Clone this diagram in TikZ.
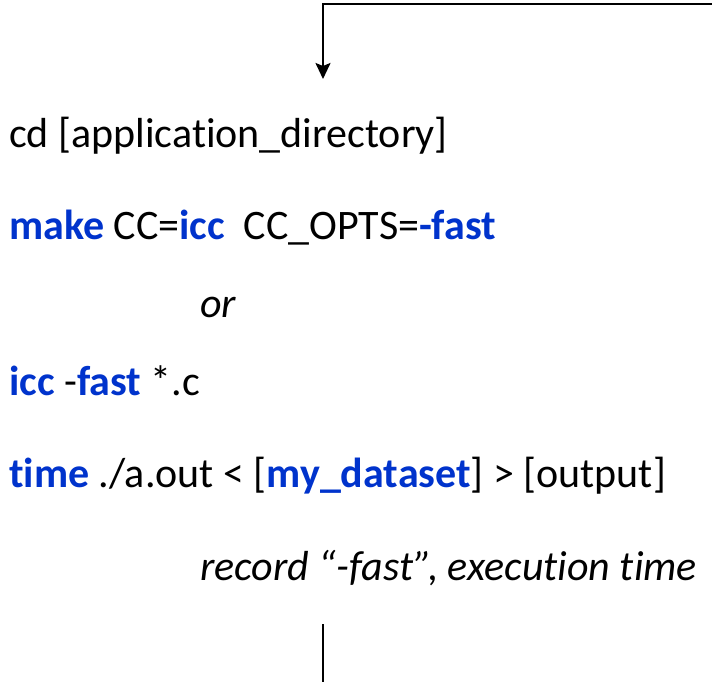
\documentclass[tikz,border=0pt]{standalone}
\usepackage{fontspec}
\setmainfont{Carlito}[Ligatures=NoCommon]
\usetikzlibrary{arrows.meta}
\definecolor{cmdblue}{RGB}{0,51,204}
\tikzset{
  cmd/.style={anchor=base west, inner sep=0pt, font=\fontsize{42}{50}\selectfont},
  flow/.style={line width=2pt, black},
}
\newcommand{\kw}[1]{\textcolor{cmdblue}{\textbf{#1}}}
\begin{document}
\begin{tikzpicture}[x=1pt,y=-1pt]
  \useasboundingbox (0,0) rectangle (712,682);
  % incoming flow from the right
  \coordinate (inR) at (712,4);
  \coordinate (inC) at (323,4);
  \coordinate (inT) at (323,79);
  \draw[flow, -{Stealth[length=16pt,width=15pt,inset=3pt]}] (inR) -- (inC) -- (inT);
  % command lines
  \node[cmd] (l1) at (9,147) {cd [application\_directory]};
  \node[cmd] (l2) at (9,239) {\kw{make} CC=\kw{icc}\ \ CC\_OPTS=\kw{-fast}};
  \node[cmd] (l3) at (200,317) {\textit{or}};
  \node[cmd] (l4) at (9,395) {\kw{icc} -\kw{fast} *.c};
  \node[cmd] (l5) at (9,487) {\kw{time} ./a.out < [\kw{my\_dataset}] > [output]};
  \node[cmd] (l6) at (200,580) {\textit{record “-fast”, execution time}};
  % outgoing flow downwards
  \coordinate (outT) at (323,624);
  \coordinate (outB) at (323,682);
  \draw[flow] (outT) -- (outB);
\end{tikzpicture}
\end{document}
